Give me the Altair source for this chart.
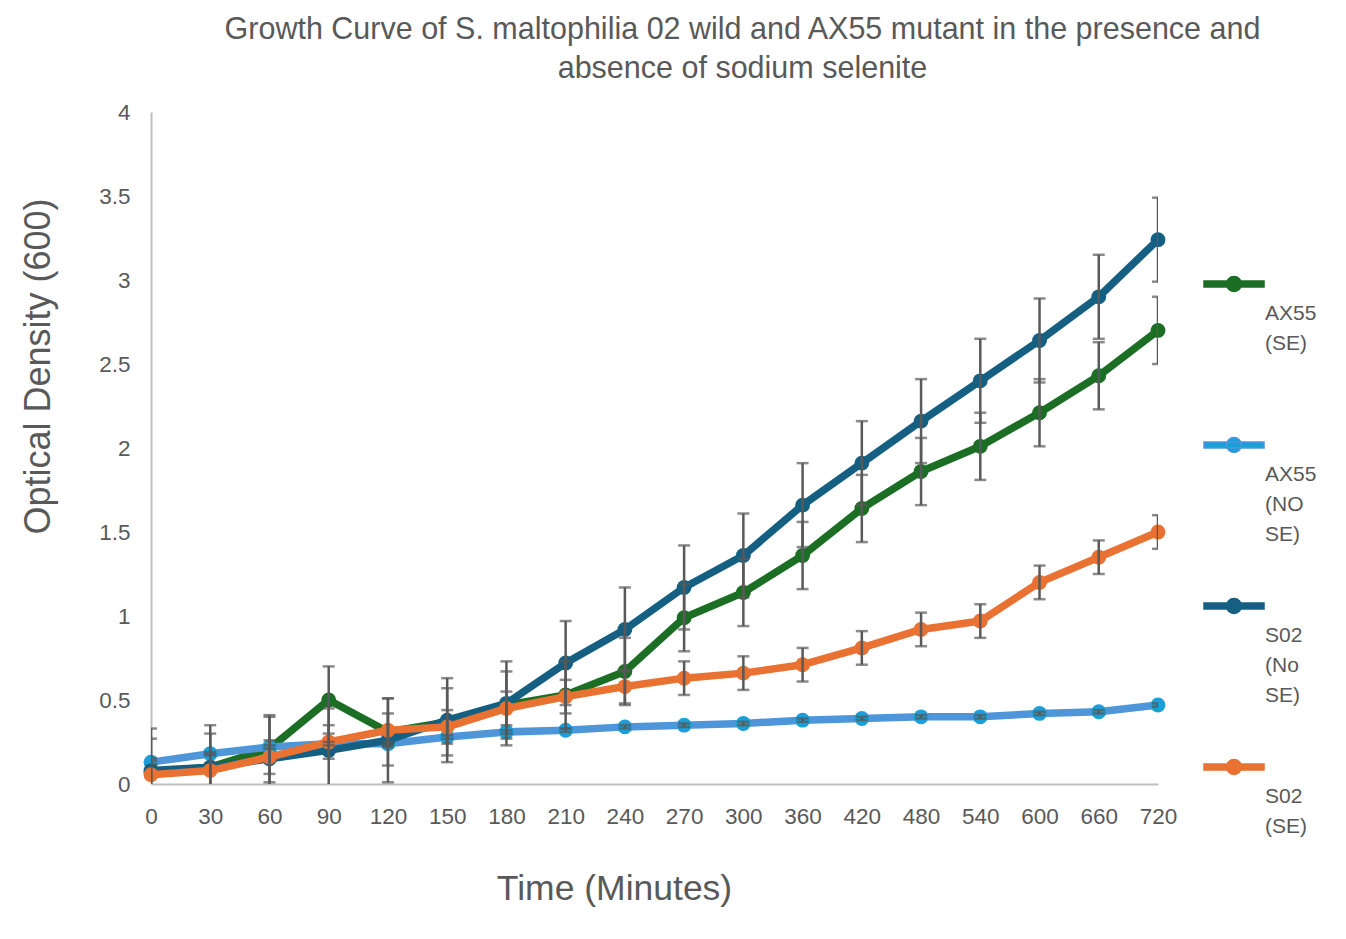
import altair as alt
import pandas as pd

times = ["0", "30", "60", "90", "120", "150", "180", "210", "240", "270",
         "300", "360", "420", "480", "540", "600", "660", "720"]

series_names = ["AX55 (SE)", "AX55 (NO SE)", "S02 (No SE)", "S02 (SE)"]

ax55_se = [0.07, 0.10, 0.21, 0.50, 0.31, 0.37, 0.47, 0.53, 0.67, 0.99,
           1.14, 1.36, 1.64, 1.86, 2.01, 2.21, 2.43, 2.70]
ax55_no_se = [0.13, 0.18, 0.22, 0.24, 0.24, 0.28, 0.31, 0.32, 0.34, 0.35,
              0.36, 0.38, 0.39, 0.40, 0.40, 0.42, 0.43, 0.47]
s02_no_se = [0.08, 0.10, 0.15, 0.20, 0.26, 0.38, 0.48, 0.72, 0.92, 1.17,
             1.36, 1.66, 1.91, 2.16, 2.40, 2.64, 2.90, 3.24]
s02_se = [0.055, 0.08, 0.16, 0.25, 0.32, 0.34, 0.45, 0.52, 0.58, 0.63,
          0.66, 0.71, 0.81, 0.92, 0.97, 1.20, 1.35, 1.50]

err_ax55_se = [0.2] * 18
err_ax55_no_se = [0.01] * 18
err_s02_no_se = [0.25] * 18
err_s02_se = [0.1] * 18

line_colors = ["#1B6E24", "#4E95D9", "#156082", "#E97132"]
marker_colors = ["#1B6E24", "#1A9FD8", "#156082", "#E97132"]

rows = []
for name, vals, errs in zip(series_names,
                            [ax55_se, ax55_no_se, s02_no_se, s02_se],
                            [err_ax55_se, err_ax55_no_se, err_s02_no_se, err_s02_se]):
    for t, v, e in zip(times, vals, errs):
        rows.append({"time": t, "series": name, "od": v,
                     "lo": v - e, "hi": v + e})
df = pd.DataFrame(rows)

TEXT = "#595959"
FONT = "Liberation Sans"

x_enc = alt.X("time:O", sort=times,
              scale=alt.Scale(type="point", padding=0),
              axis=alt.Axis(title="Time (Minutes)", labelAngle=0))
y_scale = alt.Scale(domain=[0, 4], nice=False)

color_scale = alt.Scale(domain=series_names, range=line_colors)
fill_scale = alt.Scale(domain=series_names, range=marker_colors)

# wrap legend labels word by word; pad so the first word sits beside the symbol
label_expr = ("split(' ' + datum.label + "
              "(length(split(datum.label, ' ')) < 3 ? '  ' : ' '), ' ')")

sym_path = ("M-1,-0.1H1V0.1H-1Z "
            "M0.25,0A0.25,0.25 0 1,1 -0.25,0A0.25,0.25 0 1,1 0.25,0Z")


def make_legend():
    return alt.Legend(title="", orient="none", legendX=1052, legendY=141,
                      symbolType=sym_path, symbolSize=3600,
                      symbolStrokeWidth=1.5,
                      labelExpr=label_expr, labelFontSize=21,
                      labelColor=TEXT, labelFont=FONT, labelLimit=200,
                      labelOffset=0, rowPadding=-70)


base = alt.Chart(df)
layers = []
for name in series_names:
    sub = base.transform_filter(alt.datum.series == name)
    line = sub.mark_line(strokeWidth=7.5, strokeJoin="round").encode(
        x=x_enc,
        y=alt.Y("od:Q", scale=y_scale,
                axis=alt.Axis(title="Optical Density (600)",
                              values=[0, 0.5, 1, 1.5, 2, 2.5, 3, 3.5, 4],
                              format="~g")),
        color=alt.Color("series:N", scale=color_scale, legend=make_legend()),
    )
    pts = sub.mark_circle(size=220, opacity=1).encode(
        x=x_enc,
        y=alt.Y("od:Q", scale=y_scale),
        fill=alt.Fill("series:N", scale=fill_scale, legend=make_legend()),
    )
    layers += [line, pts]

err_rule = base.mark_rule(color="#595959", strokeWidth=2.5, clip=True).encode(
    x=x_enc, y=alt.Y("lo:Q", scale=y_scale), y2="hi:Q")
err_top = base.mark_tick(color="#595959", thickness=2.5, size=12, clip=True).encode(
    x=x_enc, y=alt.Y("hi:Q", scale=y_scale))
err_bot = base.mark_tick(color="#595959", thickness=2.5, size=12, clip=True).encode(
    x=x_enc, y=alt.Y("lo:Q", scale=y_scale))

chart = alt.layer(*layers, err_rule, err_top, err_bot).properties(
    width=1007, height=672,
    padding={"left": 12, "top": 6, "right": 5, "bottom": 5},
    title=alt.Title(
        ["Growth Curve of S. maltophilia 02 wild and AX55 mutant in the presence and",
         "absence of sodium selenite"],
        fontSize=30.5, font=FONT, color=TEXT, fontWeight="normal",
        anchor="middle", dx=88, offset=17, lineHeight=39),
).configure(
    style={"guide-label": {"lineHeight": 30}}
).configure_view(stroke=None).configure_axis(
    grid=False, ticks=False, domainColor="#BFBFBF", domainWidth=2,
    labelFont=FONT, labelFontSize=22.5, labelColor=TEXT, labelPadding=21,
    titleFont=FONT, titleColor=TEXT, titleFontWeight="normal",
).configure_axisY(titlePadding=41, titleFontSize=36, titleY=254
).configure_axisX(titlePadding=44, titleFontSize=35.5, titleX=463)

chart.save("out.html", embed_options={"renderer": "svg", "actions": False})
